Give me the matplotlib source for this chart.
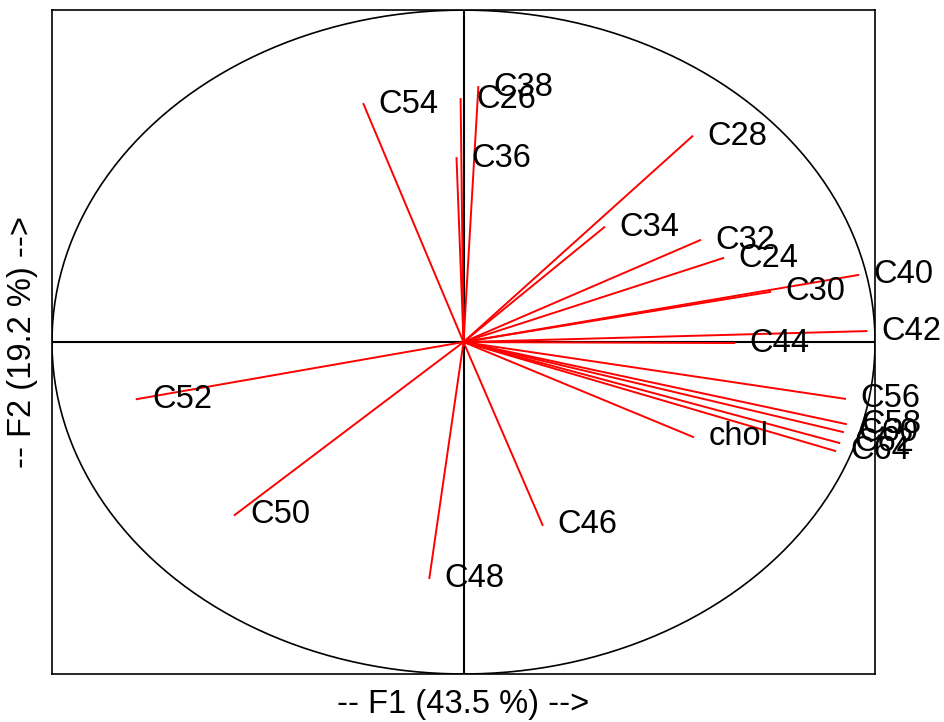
import numpy as np
import matplotlib.pyplot as plt

plt.rcParams['font.family'] = ['Liberation Sans', 'DejaVu Sans']

# correlations of each variable with the first two factors
variables = ['C24', 'C26', 'C28', 'C30', 'C32', 'C34', 'C36', 'C38', 'C40',
             'C42', 'C44', 'C46', 'C48', 'C50', 'C52', 'C54', 'C56', 'C58',
             'C60', 'C62', 'C64', 'chol']
f1 = [0.631, -0.007, 0.556, 0.745, 0.575, 0.342, -0.017, 0.036, 0.959,
      0.979, 0.658, 0.192, -0.083, -0.556, -0.794, -0.243, 0.927, 0.929,
      0.922, 0.913, 0.903, 0.558]
f2 = [0.253, 0.732, 0.620, 0.151, 0.307, 0.346, 0.554, 0.768, 0.202,
      0.033, -0.003, -0.551, -0.711, -0.521, -0.172, 0.717, -0.171, -0.247,
      -0.271, -0.304, -0.328, -0.286]
inertia = [43.5, 19.2]

fig = plt.figure(figsize=(9.45, 7.22), dpi=100)
ax = fig.add_axes([0.055, 0.0665, 0.871, 0.9195])

theta = np.linspace(0, 2 * np.pi, 400)
ax.plot(np.cos(theta), np.sin(theta), color='black', lw=1.2)
ax.axhline(0, color='black', lw=1.5)
ax.axvline(0, color='black', lw=1.5)

for name, x, y in zip(variables, f1, f2):
    ax.plot([0, x], [0, y], color='red', lw=1.4)
    ax.annotate(name, (x, y), xytext=(11, 0), textcoords='offset points',
                ha='left', va='center', fontsize=23.5, annotation_clip=False)

ax.set_xlim(-1, 1)
ax.set_ylim(-1, 1)
ax.set_xticks([])
ax.set_yticks([])
for s in ax.spines.values():
    s.set_linewidth(1.2)

ax.set_xlabel('-- F1 (%.1f %%) -->' % inertia[0], fontsize=23.5, labelpad=11)
ax.set_ylabel('-- F2 (%.1f %%) -->' % inertia[1], fontsize=23.5, labelpad=10)

fig.savefig('out.png', dpi=100)
